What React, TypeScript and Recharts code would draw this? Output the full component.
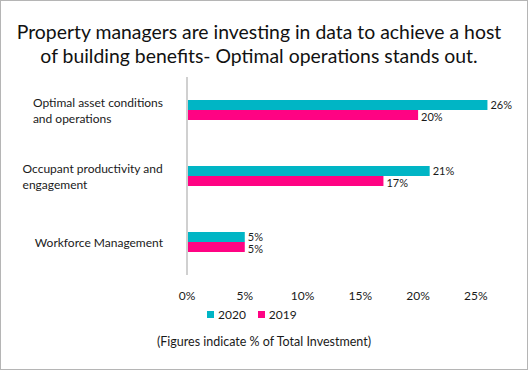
import React from 'react';
import { BarChart, Bar, XAxis, YAxis, LabelList } from 'recharts';

const categories = [
  'Optimal asset conditions\nand operations',
  'Occupant productivity and\nengagement',
  'Workforce Management',
];
const values2020 = [26, 21, 5];
const values2019 = [20, 17, 5];
const xTicks = [0, 5, 10, 15, 20, 25];
const seriesNames = ['2020', '2019'];

const FONT = 'Lato, "Open Sans", sans-serif';
const COLORS = { y2020: '#00b5c5', y2019: '#ff0383' };

const data = categories.map((name, i) => ({
  name,
  y2020: values2020[i],
  y2019: values2019[i],
}));

let ctx: CanvasRenderingContext2D | null = null;
const measure = (text: string) => {
  if (!ctx) ctx = document.createElement('canvas').getContext('2d');
  if (!ctx) return text.length * 6;
  ctx.font = `12px ${FONT}`;
  return ctx.measureText(text).width;
};

// category label: lines left-aligned, block right edge near the axis
const CategoryTick = (props: any) => {
  const { y, payload } = props;
  const lines: string[] = String(payload.value).split('\n');
  const widest = Math.max(...lines.map(measure));
  const left = 163 - widest;
  const lineH = 16;
  const startY = y - ((lines.length - 1) * lineH) / 2;
  return (
    <text x={left} y={startY} fill="#1a1a1a" fontSize={12} fontFamily={FONT} dominantBaseline="central">
      {lines.map((l, i) => (
        <tspan key={i} x={left} y={startY + i * lineH}>
          {l}
        </tspan>
      ))}
    </text>
  );
};

// value label to the right of a bar, nudged so the two stacked labels don't collide
const makeValueLabel = (dy: number) => (props: any) => {
  const { x, y, width, height, value } = props;
  return (
    <text
      x={x + width + 3}
      y={y + height / 2 + dy}
      fill="#1a1a1a"
      fontSize={11}
      fontFamily={FONT}
      dominantBaseline="central"
    >
      {`${value}%`}
    </text>
  );
};

export default function App() {
  const legendColors = [COLORS.y2020, COLORS.y2019];
  return (
    <div
      style={{
        position: 'absolute',
        top: 0,
        left: 0,
        width: 528,
        height: 370,
        boxSizing: 'border-box',
        border: '1px solid #b5b5b5',
        background: '#fff',
        fontFamily: FONT,
      }}
    >
      <div
        style={{
          position: 'absolute',
          top: 19,
          left: -5,
          width: 526,
          textAlign: 'center',
          fontSize: 19.4,
          lineHeight: '24px',
          color: '#111',
        }}
      >
        Property managers are investing in data to achieve a host
        <br />
        of building benefits- Optimal operations stands out.
      </div>
      <div style={{ position: 'absolute', top: -1, left: -1 }}>
        <BarChart
          width={528}
          height={370}
          data={data}
          layout="vertical"
          barGap={0}
          barSize={10}
          margin={{ top: 77, right: 29, left: 7, bottom: 65 }}
        >
          <XAxis
            type="number"
            domain={[0, 27]}
            ticks={xTicks}
            tickFormatter={(v) => `${v}%`}
            axisLine={false}
            tickLine={false}
            height={30}
            tick={{ fill: '#1a1a1a', fontSize: 12, fontFamily: FONT }}
            tickMargin={10}
            interval={0}
          />
          <YAxis
            type="category"
            dataKey="name"
            width={180}
            axisLine={{ stroke: '#d0d0d0', strokeWidth: 2 }}
            tickLine={false}
            tick={<CategoryTick />}
          />
          <Bar dataKey="y2020" name="2020" fill={COLORS.y2020} isAnimationActive={false}>
            <LabelList dataKey="y2020" content={makeValueLabel(-1)} />
          </Bar>
          <Bar dataKey="y2019" name="2019" fill={COLORS.y2019} isAnimationActive={false}>
            <LabelList dataKey="y2019" content={makeValueLabel(1)} />
          </Bar>
        </BarChart>
      </div>
      {/* legend */}
      <div
        style={{
          position: 'absolute',
          top: 306,
          left: 206,
          display: 'flex',
          gap: 12,
          fontSize: 12,
          color: '#1a1a1a',
        }}
      >
        {seriesNames.map((label, i) => (
          <span key={label} style={{ display: 'flex', alignItems: 'center', gap: 4 }}>
            <span style={{ width: 7, height: 7, background: legendColors[i], display: 'inline-block' }} />
            {label}
          </span>
        ))}
      </div>
      <div
        style={{
          position: 'absolute',
          top: 333,
          left: 0,
          width: 526,
          textAlign: 'center',
          fontSize: 12.5,
          color: '#1a1a1a',
        }}
      >
        (Figures indicate % of Total Investment)
      </div>
    </div>
  );
}
